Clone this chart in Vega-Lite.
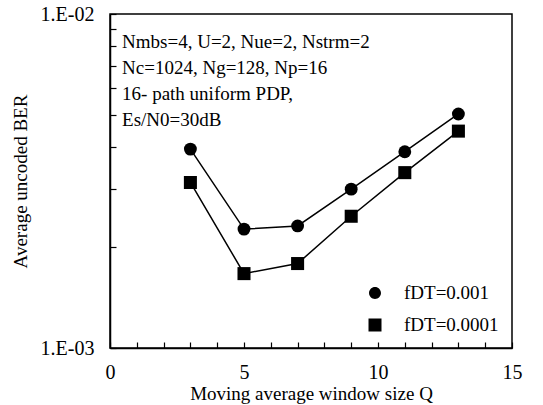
{
  "$schema": "https://vega.github.io/schema/vega-lite/v6.json",
  "width": 402,
  "height": 334,
  "autosize": {"type": "none"},
  "padding": {"left": 110, "top": 14, "right": 31, "bottom": 57},
  "config": {
    "font": "Liberation Serif",
    "view": {"stroke": "black", "strokeWidth": 1.5},
    "axis": {
      "grid": false,
      "domainColor": "black",
      "domainWidth": 1.5,
      "tickColor": "black",
      "tickWidth": 1.2,
      "tickSize": -6,
      "labelColor": "black",
      "titleColor": "black",
      "labelFont": "Liberation Serif",
      "titleFont": "Liberation Serif",
      "labelFontSize": 20,
      "titleFontSize": 19,
      "titleFontWeight": "normal",
      "labelFlush": false,
      "labelOverlap": false
    },
    "axisX": {"labelOverlap": false},
    "axisY": {"labelOverlap": false}
  },
  "data": {
    "values": [
      {"Q": 3, "ber": 0.00394, "series": "fDT=0.001"},
      {"Q": 5, "ber": 0.00227, "series": "fDT=0.001"},
      {"Q": 7, "ber": 0.00232, "series": "fDT=0.001"},
      {"Q": 9, "ber": 0.00299, "series": "fDT=0.001"},
      {"Q": 11, "ber": 0.00387, "series": "fDT=0.001"},
      {"Q": 13, "ber": 0.00502, "series": "fDT=0.001"},
      {"Q": 3, "ber": 0.00313, "series": "fDT=0.0001"},
      {"Q": 5, "ber": 0.00167, "series": "fDT=0.0001"},
      {"Q": 7, "ber": 0.00179, "series": "fDT=0.0001"},
      {"Q": 9, "ber": 0.00248, "series": "fDT=0.0001"},
      {"Q": 11, "ber": 0.00335, "series": "fDT=0.0001"},
      {"Q": 13, "ber": 0.00446, "series": "fDT=0.0001"}
    ]
  },
  "layer": [
    {
      "encoding": {
        "x": {
          "field": "Q",
          "type": "quantitative",
          "scale": {"domain": [0, 15], "nice": false, "zero": false},
          "axis": {
            "title": "Moving average window size Q",
            "values": [0,1,2,3,4,5,6,7,8,9,10,11,12,13,14,15],
            "labelExpr": "datum.value % 5 == 0 ? datum.label : ''",
            "labelOverlap": false,
            "labelPadding": 20,
            "titlePadding": 2
          }
        },
        "y": {
          "field": "ber",
          "type": "quantitative",
          "scale": {"type": "log", "domain": [0.001, 0.01], "nice": false},
          "axis": {
            "title": "Average uncoded BER",
            "values": [0.001,0.002,0.003,0.004,0.005,0.006,0.007,0.008,0.009,0.01],
            "labelExpr": "datum.value > 0.0095 ? '1.E-02' : (datum.value < 0.0011 ? '1.E-03' : '')",
            "labelOverlap": false,
            "labelPadding": 22,
            "titlePadding": 10
          }
        }
      },
      "layer": [
        {
          "mark": {"type": "line", "color": "black", "strokeWidth": 1.5},
          "encoding": {"detail": {"field": "series"}}
        },
        {
          "transform": [{"filter": "datum.series == 'fDT=0.001'"}],
          "mark": {"type": "point", "shape": "circle", "filled": true, "color": "black", "opacity": 1, "size": 165}
        },
        {
          "transform": [{"filter": "datum.series == 'fDT=0.0001'"}],
          "mark": {"type": "point", "shape": "square", "filled": true, "color": "black", "opacity": 1, "size": 170}
        },
        {
          "mark": {"type": "point", "filled": false, "color": "black", "fill": "black", "stroke": "black", "strokeWidth": 1.5, "size": 0},
          "encoding": {
            "shape": {
              "field": "series",
              "type": "nominal",
              "scale": {
                "domain": ["fDT=0.001", "fDT=0.0001"],
                "range": [
                  "M-1,0H1M-0.23,0A0.23,0.23,0,1,1,0.23,0A0.23,0.23,0,1,1,-0.23,0Z",
                  "M-1,0H1M-0.25,-0.25H0.25V0.25H-0.25Z"
                ]
              },
              "legend": {
                "orient": "none",
                "legendX": 238,
                "legendY": 264,
                "title": null,
                "padding": 0,
                "labelFontSize": 19,
                "labelFont": "Liberation Serif",
                "labelColor": "black",
                "symbolSize": 2704,
                "clipHeight": 30,
                "labelOffset": 2,
                "symbolOpacity": 1,
                "symbolStrokeWidth": 1.5,
                "symbolFillColor": "black",
                "symbolStrokeColor": "black",
                "encode": {
                  "symbols": {
                    "update": {
                      "stroke": {"value": "black"},
                      "strokeWidth": {"value": 1.5},
                      "fill": {"value": "black"}
                    }
                  }
                }
              }
            }
          }
        }
      ]
    },
    {
      "data": {"values": [{"note": "conditions"}]},
      "mark": {
        "type": "text",
        "align": "left",
        "baseline": "top",
        "fontSize": 19,
        "lineHeight": 26,
        "font": "Liberation Serif",
        "color": "black",
        "text": ["Nmbs=4, U=2, Nue=2, Nstrm=2", "Nc=1024, Ng=128, Np=16", "16- path uniform PDP,", "Es/N0=30dB"]
      },
      "encoding": {
        "x": {
          "datum": 0.45,
          "type": "quantitative",
          "axis": {
            "title": "Moving average window size Q",
            "values": [0,1,2,3,4,5,6,7,8,9,10,11,12,13,14,15],
            "labelExpr": "datum.value % 5 == 0 ? datum.label : ''",
            "labelOverlap": false,
            "labelPadding": 20,
            "titlePadding": 2
          }
        },
        "y": {
          "datum": 0.0088,
          "type": "quantitative",
          "axis": {
            "title": "Average uncoded BER",
            "values": [0.001,0.002,0.003,0.004,0.005,0.006,0.007,0.008,0.009,0.01],
            "labelExpr": "datum.value > 0.0095 ? '1.E-02' : (datum.value < 0.0011 ? '1.E-03' : '')",
            "labelOverlap": false,
            "labelPadding": 22,
            "titlePadding": 10
          }
        }
      }
    }
  ]
}
